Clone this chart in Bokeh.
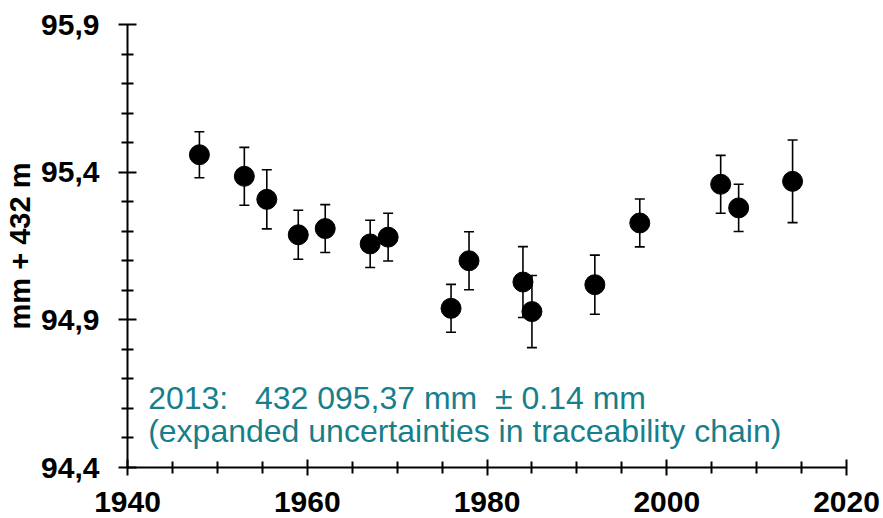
from bokeh.plotting import figure
from bokeh.models import (Range1d, FixedTicker, CustomJSTickFormatter, Whisker,
                          TeeHead, ColumnDataSource, Label)
from bokeh.embed import file_html
from bokeh.resources import INLINE

years = [1948, 1953, 1955.5, 1959, 1962, 1967, 1969, 1976, 1978, 1984, 1985,
         1992, 1997, 2006, 2008, 2014]
values = [95.459, 95.386, 95.308, 95.188, 95.209, 95.157, 95.180, 94.939,
          95.100, 95.028, 94.928, 95.019, 95.228, 95.359, 95.279, 95.369]
errors = [0.078, 0.098, 0.100, 0.083, 0.081, 0.080, 0.081, 0.081, 0.098,
          0.120, 0.122, 0.100, 0.081, 0.098, 0.080, 0.140]

x_major = [1940, 1960, 1980, 2000, 2020]
x_minor = [1945, 1950, 1955, 1965, 1970, 1975, 1985, 1990, 1995, 2005, 2010, 2015]
y_major = [94.4, 94.9, 95.4, 95.9]
y_minor = [94.5, 94.6, 94.7, 94.8, 95.0, 95.1, 95.2, 95.3, 95.5, 95.6, 95.7, 95.8]

note_line1 = "2013:\u00a0\u00a0 432 095,37 mm\u00a0 \u00b1 0.14 mm"
note_line2 = "(expanded uncertainties in traceability chain)"
y_title = "mm + 432 m"

src = ColumnDataSource(dict(
    x=years, y=values,
    upper=[v + e for v, e in zip(values, errors)],
    lower=[v - e for v, e in zip(values, errors)],
))

p = figure(width=883, height=518, output_backend="svg", toolbar_location=None,
           x_range=Range1d(1940, 2020), y_range=Range1d(94.4, 95.9),
           min_border_left=127, min_border_right=37, min_border_top=24,
           min_border_bottom=51)
p.outline_line_color = None
p.xgrid.visible = False
p.ygrid.visible = False
p.background_fill_color = "white"

font = "Liberation Sans"
for ax in (p.xaxis[0], p.yaxis[0]):
    ax.axis_line_width = 2
    ax.axis_line_color = "black"
    ax.major_tick_line_width = 2
    ax.minor_tick_line_width = 2
    ax.major_tick_line_color = "black"
    ax.minor_tick_line_color = "black"
    ax.major_label_text_font = font
    ax.major_label_text_font_style = "bold"
    ax.major_label_text_font_size = "30px"
    ax.major_label_text_color = "black"

xa = p.xaxis[0]
xa.ticker = FixedTicker(ticks=x_major, minor_ticks=x_minor)
xa.major_tick_in = 8
xa.major_tick_out = 8
xa.minor_tick_in = 6
xa.minor_tick_out = 6
xa.major_label_standoff = 16

ya = p.yaxis[0]
ya.ticker = FixedTicker(ticks=y_major, minor_ticks=y_minor)
ya.formatter = CustomJSTickFormatter(code="return tick.toFixed(1).replace('.', ',');")
ya.major_tick_in = 9
ya.major_tick_out = 9
ya.minor_tick_in = 6
ya.minor_tick_out = 6
ya.major_label_standoff = 19
ya.axis_label = y_title
ya.axis_label_text_font = font
ya.axis_label_text_font_style = "bold"
ya.axis_label_text_font_size = "29px"
ya.axis_label_text_color = "black"
ya.axis_label_standoff = 2

w = Whisker(source=src, base="x", upper="upper", lower="lower",
            line_width=1.6, line_color="black",
            upper_head=TeeHead(size=10, line_width=1.6, line_color="black"),
            lower_head=TeeHead(size=10, line_width=1.6, line_color="black"))
p.add_layout(w)

p.scatter("x", "y", source=src, size=20, fill_color="black", line_color="black")

teal = "#177f8b"
p.add_layout(Label(x=1942.3, y=94.636, text=note_line1, text_font=font,
                   text_font_size="32px", text_color=teal,
                   text_baseline="alphabetic"))
p.add_layout(Label(x=1942.3, y=94.524, text=note_line2, text_font=font,
                   text_font_size="32px", text_color=teal,
                   text_baseline="alphabetic"))

open("out.html", "w").write(file_html(p, INLINE))
